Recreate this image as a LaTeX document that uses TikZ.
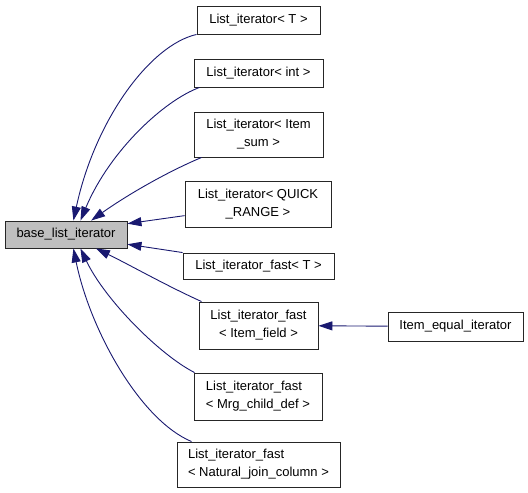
\documentclass[tikz,border=0pt]{standalone}
\usepackage{fontspec}
\setmainfont{Liberation Sans}
\usetikzlibrary{arrows.meta}
\definecolor{edgeblue}{HTML}{191970}
\definecolor{basegray}{HTML}{BFBFBF}

\tikzset{
  cls/.style={draw=black!85, fill=white, line width=0.9pt, inner sep=0pt,
    font=\fontsize{13}{18}\selectfont, align=center},
  basecls/.style={cls, fill=basegray},
  inherit/.style={draw=edgeblue, line width=0.9pt,
    -{Triangle[length=14pt,width=9pt]}},
}

\begin{document}
\begin{tikzpicture}[x=1pt,y=-1pt]
\useasboundingbox (0,0) rectangle (528,493);
% classes
\node[basecls, minimum width=122pt, minimum height=27pt] (base) at (66,234.5) {base\_list\_iterator};
\node[cls, minimum width=123pt, minimum height=28pt] (lit)   at (258.5,20)    {List\_iterator< T >};
\node[cls, minimum width=129pt, minimum height=28pt] (lint)  at (258.5,73)    {List\_iterator< int >};
\node[cls, minimum width=129pt, minimum height=45pt] (lsum)  at (258.5,134.5) {List\_iterator< Item\\\_sum >};
\node[cls, minimum width=146pt, minimum height=46pt] (lquick) at (258,204)    {List\_iterator< QUICK\\\_RANGE >};
\node[cls, minimum width=151pt, minimum height=26pt] (lft)   at (258.5,266)   {List\_iterator\_fast< T >};
\node[cls, minimum width=119pt, minimum height=47pt] (lfield) at (258.5,325.5) {List\_iterator\_fast\\< Item\_field >};
\node[cls, minimum width=135pt, minimum height=29pt] (eqit)  at (455.5,326.5) {Item\_equal\_iterator};
\node[cls, minimum width=128pt, minimum height=47pt, align=left] (lmrg) at (258,396.5) {List\_iterator\_fast\\< Mrg\_child\_def >};
\node[cls, minimum width=163pt, minimum height=45pt, align=left] (lnat) at (258.5,464.5) {List\_iterator\_fast\\< Natural\_join\_column >};
% inheritance
\draw[inherit] (lit.south west) .. controls (150,45) and (95,120) .. (base.62);
\draw[inherit] ([xshift=6pt]lint.south west) .. controls (165,100) and (110,150) .. (base.44);
\draw[inherit] ([xshift=8pt]lsum.south west) .. controls (160,175) and (120,200) .. (base.29);
\draw[inherit] (lquick.189) -- (base.10);
\draw[inherit] (lft.north west) -- (base.-9);
\draw[inherit] ([xshift=3pt]lfield.north west) .. controls (165,285) and (130,265) .. (base.-25);
\draw[inherit] ([xshift=1pt]lmrg.north west) .. controls (160,355) and (105,300) .. (base.-44);
\draw[inherit] ([xshift=15pt]lnat.north west) .. controls (140,420) and (90,330) .. (base.-62);
\draw[inherit] (eqit) -- (lfield);
\end{tikzpicture}
\end{document}
